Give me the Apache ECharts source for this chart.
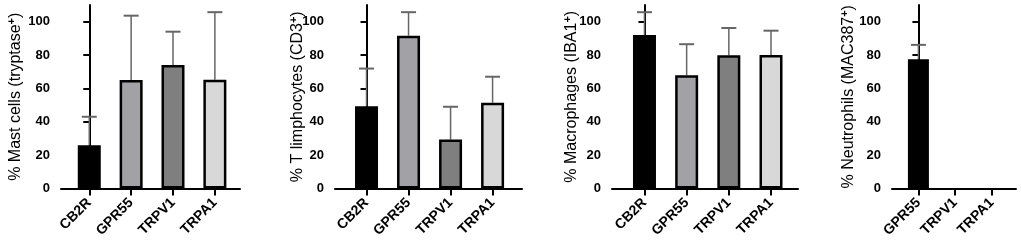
<!DOCTYPE html>
<html>
<head>
<meta charset="utf-8">
<script src="https://cdn.jsdelivr.net/npm/echarts@6/dist/echarts.min.js"></script>
<style>
  html, body { margin: 0; padding: 0; background: #fff; }
  #chart { width: 1021px; height: 242px; }
</style>
</head>
<body>
<div id="chart"></div>
<script>
// categories
const receptors = ['CB2R', 'GPR55', 'TRPV1', 'TRPA1']
const receptorsNeutro = ['GPR55', 'TRPV1', 'TRPA1']

// means and SD (upper error bar)
const mastMean = [26, 65, 74, 65.2]
const mastSD = [17, 38.6, 20, 40.5]
const tcellMean = [49.3, 91.6, 29.3, 51.4]
const tcellSD = [22.6, 14.1, 19.7, 15.6]
const macroMean = [92, 67.9, 79.9, 80]
const macroSD = [13.7, 18.6, 16.3, 14.6]
const neutroMean = [77.5, 0, 0]
const neutroSD = [8.6, 0, 0]

// y ticks
const yTicks = [0, 20, 40, 60, 80, 100]

const greys = ['#000000', '#a1a1a6', '#7f7f7f', '#d8d8d8']
const greysNeutro = ['#000000', '#7f7f7f', '#d8d8d8']

const FONT = 'Liberation Sans, Arial, sans-serif'

// one entry per panel: grid placement + data
const panels = [
  { cats: receptors, mean: mastMean, sd: mastSD, colors: greys, name: '% Mast cells (tryptase{s|+})',
    left: 61, right: 781, xmin: -0.675, xmax: 3.6, gap: 36, barW: 23 },
  { cats: receptors, mean: tcellMean, sd: tcellSD, colors: greys, name: '% T limphocytes (CD3{s|+})',
    left: 335, right: 499, xmin: -0.75, xmax: 3.7, gap: 28, barW: 23 },
  { cats: receptors, mean: macroMean, sd: macroSD, colors: greys, name: '% Macrophages (IBA1{s|+})',
    left: 612, right: 223, xmin: -0.77, xmax: 3.64, gap: 31, barW: 23 },
  { cats: receptorsNeutro, mean: neutroMean, sd: neutroSD, colors: greysNeutro, name: '% Neutrophils (MAC387{s|+})',
    left: 892, right: 5, xmin: -0.72, xmax: 2.66, gap: 34, barW: 21 }
]

const grid = []
const xAxis = []
const yAxis = []
const series = []

panels.forEach((p, i) => {
  const pos = p.cats.map((c, k) => k)
  grid.push({ left: p.left, right: p.right, top: 5, bottom: 53.5 })
  xAxis.push({
    type: 'value',
    gridIndex: i,
    min: p.xmin,
    max: p.xmax,
    splitLine: { show: false },
    axisLine: { show: true, onZero: false, lineStyle: { color: '#000', width: 2 } },
    axisTick: { show: true, customValues: pos, length: 7, lineStyle: { color: '#000', width: 2 } },
    axisLabel: {
      customValues: pos,
      formatter: v => p.cats[Math.round(v)] || '',
      rotate: 45,
      margin: 12,
      color: '#000',
      fontFamily: FONT,
      fontWeight: 'bold',
      fontSize: 14
    }
  })
  yAxis.push({
    type: 'value',
    gridIndex: i,
    min: 0,
    max: 110,
    name: p.name,
    nameLocation: 'middle',
    nameGap: p.gap,
    nameMoveOverlap: false,
    nameTextStyle: {
      color: '#000',
      fontFamily: FONT,
      fontSize: 16,
      rich: { s: { fontSize: 11, fontWeight: 'bold', fontFamily: FONT, color: '#000', padding: [0, 0, 8, 0] } }
    },
    splitLine: { show: false },
    axisLine: { show: true, lineStyle: { color: '#000', width: 2 } },
    axisTick: { show: true, customValues: yTicks, length: 6, lineStyle: { color: '#000', width: 2 } },
    axisLabel: {
      customValues: yTicks,
      margin: 11,
      color: '#000',
      fontFamily: FONT,
      fontWeight: 'bold',
      fontSize: 13
    }
  })
  // 误差线 (upper SD only)
  series.push({
    type: 'custom',
    xAxisIndex: i,
    yAxisIndex: i,
    z: 1,
    data: p.mean.map((m, k) => [k, m, p.sd[k]]),
    renderItem: (params, api) => {
      const sd = api.value(2)
      if (!sd) return null
      const x = api.value(0)
      const m = api.value(1)
      const p0 = api.coord([x, m])
      const p1 = api.coord([x, m + sd])
      const hw = 7.5
      return {
        type: 'group',
        children: [
          { type: 'line', shape: { x1: p0[0], y1: p0[1], x2: p1[0], y2: p1[1] }, style: { stroke: '#666', lineWidth: 1.5 } },
          { type: 'line', shape: { x1: p1[0] - hw, y1: p1[1], x2: p1[0] + hw, y2: p1[1] }, style: { stroke: '#666', lineWidth: 2 } }
        ]
      }
    }
  })
  series.push({
    type: 'bar',
    xAxisIndex: i,
    yAxisIndex: i,
    z: 2,
    barWidth: p.barW,
    data: p.mean.map((m, k) => ({
      value: [k, m],
      itemStyle: { color: p.colors[k], borderColor: '#000', borderWidth: m > 0 ? 2.5 : 0 }
    }))
  })
})

const chart = echarts.init(document.getElementById('chart'))
chart.setOption({
  animation: false,
  backgroundColor: '#fff',
  grid: grid,
  xAxis: xAxis,
  yAxis: yAxis,
  series: series
})
</script>
</body>
</html>
